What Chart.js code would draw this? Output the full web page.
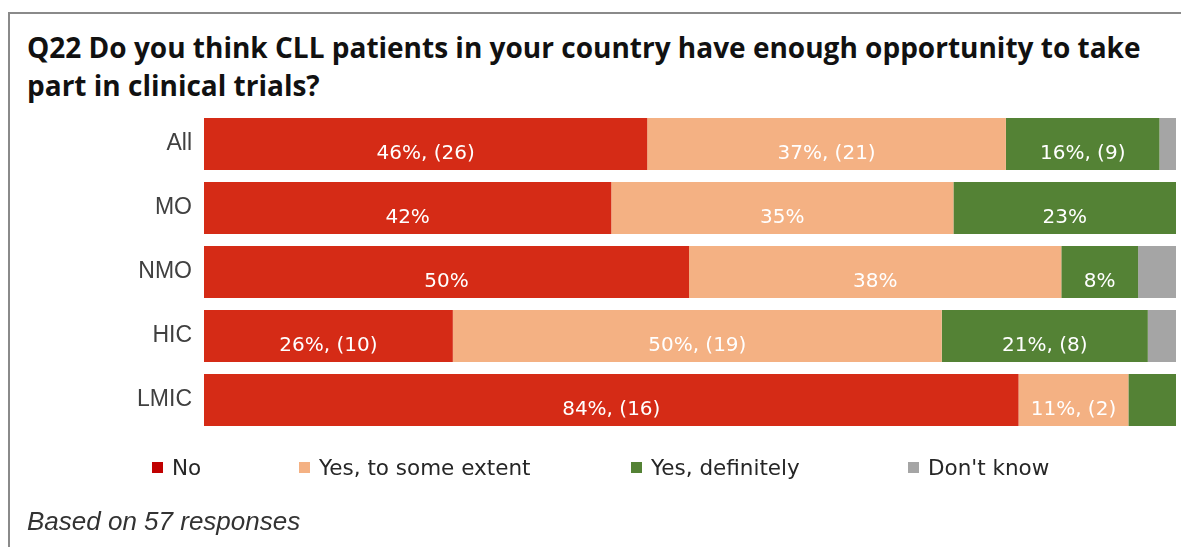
<!DOCTYPE html>
<html>
<head>
<meta charset="utf-8">
<script src="https://cdn.jsdelivr.net/npm/chart.js@4.4.1/dist/chart.umd.min.js"></script>
<style>
  html, body { margin: 0; padding: 0; background: #fff; width: 1181px; height: 547px; overflow: hidden; }
  #frame { position: absolute; left: 8px; top: 12px; width: 1300px; height: 700px; border-top: 2px solid #8a8a8a; border-left: 2px solid #8a8a8a; }
  #title { position: absolute; left: 27px; top: 28px; font-family: "Open Sans", sans-serif; font-weight: bold; font-size: 28px; line-height: 38px; color: #111; white-space: nowrap; }
  #chartwrap { position: absolute; left: 0; top: 0; width: 1181px; height: 547px; }
  #legend { position: absolute; top: 454px; left: 0; height: 26px; font-family: "DejaVu Sans", sans-serif; font-size: 21.5px; color: #262626; }
  .li { position: absolute; top: 0; white-space: nowrap; display: flex; align-items: center; height: 26px; }
  .sw { width: 11px; height: 11px; margin-right: 9px; }
  #footer { position: absolute; left: 27px; top: 506px; font-family: "Liberation Sans", Arial, sans-serif; font-style: italic; font-size: 26px; color: #333; white-space: nowrap; }
</style>
</head>
<body>
<div id="frame"></div>
<div id="title">Q22 Do you think CLL patients in your country have enough opportunity to take<br>part in clinical trials?</div>
<div id="chartwrap"><canvas id="c" width="1181" height="547"></canvas></div>
<div id="legend"></div>
<div id="footer">Based on 57 responses</div>
<script>
const categories = ['All', 'MO', 'NMO', 'HIC', 'LMIC'];
const seriesNames = ['No', 'Yes, to some extent', 'Yes, definitely', "Don't know"];

const noValues   = [45.6, 41.9, 49.9, 25.6, 83.8];
const someValues = [36.9, 35.2, 38.3, 50.3, 11.3];
const defValues  = [15.8, 22.9, 7.9, 21.2, 4.9];
const dkValues   = [1.7, 0, 3.9, 2.9, 0];

const noLabels   = ['46%, (26)', '42%', '50%', '26%, (10)', '84%, (16)'];
const someLabels = ['37%, (21)', '35%', '38%', '50%, (19)', '11%, (2)'];
const defLabels  = ['16%, (9)', '23%', '8%', '21%, (8)', ''];
const dkLabels   = ['', '', '', '', ''];

const barColors    = ['#D52B16', '#F4B183', '#548235', '#A5A5A5'];
const legendColors = ['#C00000', '#F4B183', '#548235', '#A5A5A5'];

const valueSets = [noValues, someValues, defValues, dkValues];
const labelSets = [noLabels, someLabels, defLabels, dkLabels];

const datasets = seriesNames.map((name, i) => ({
  label: name,
  data: valueSets[i],
  backgroundColor: barColors[i],
  borderWidth: 0,
  barPercentage: 0.81,
  categoryPercentage: 1.0,
  segLabels: labelSets[i]
}));

const labelPlugin = {
  id: 'segLabels',
  afterDatasetsDraw(chart) {
    const ctx = chart.ctx;
    ctx.save();
    ctx.font = '20px "DejaVu Sans", sans-serif';
    ctx.fillStyle = '#FFFFFF';
    ctx.textAlign = 'center';
    ctx.textBaseline = 'middle';
    chart.data.datasets.forEach((ds, di) => {
      const meta = chart.getDatasetMeta(di);
      meta.data.forEach((bar, i) => {
        const txt = ds.segLabels[i];
        if (!txt) return;
        const cx = (bar.x + bar.base) / 2;
        ctx.fillText(txt, cx, bar.y + 10);
      });
    });
    ctx.restore();
  }
};

new Chart(document.getElementById('c'), {
  type: 'bar',
  data: { labels: categories, datasets },
  options: {
    indexAxis: 'y',
    responsive: false,
    animation: false,
    layout: { padding: { top: 112, bottom: 115, right: 5, left: 0 } },
    plugins: { legend: { display: false }, title: { display: false }, tooltip: { enabled: false } },
    scales: {
      x: { stacked: true, min: 0, max: 100, display: false },
      y: {
        stacked: true,
        grid: { display: false, drawTicks: false },
        border: { display: false },
        ticks: { color: '#404040', font: { family: '"Liberation Sans", Arial, sans-serif', size: 23 }, padding: 12 },
        afterFit(scale) { scale.width = 204; }
      }
    }
  },
  plugins: [labelPlugin]
});

// HTML legend built from series
const legendLeft = [152, 299, 631, 908];
const legend = document.getElementById('legend');
seriesNames.forEach((name, i) => {
  const item = document.createElement('div');
  item.className = 'li';
  item.style.left = legendLeft[i] + 'px';
  const sw = document.createElement('span');
  sw.className = 'sw';
  sw.style.background = legendColors[i];
  const t = document.createElement('span');
  t.textContent = name;
  item.appendChild(sw); item.appendChild(t);
  legend.appendChild(item);
});
</script>
</body>
</html>
